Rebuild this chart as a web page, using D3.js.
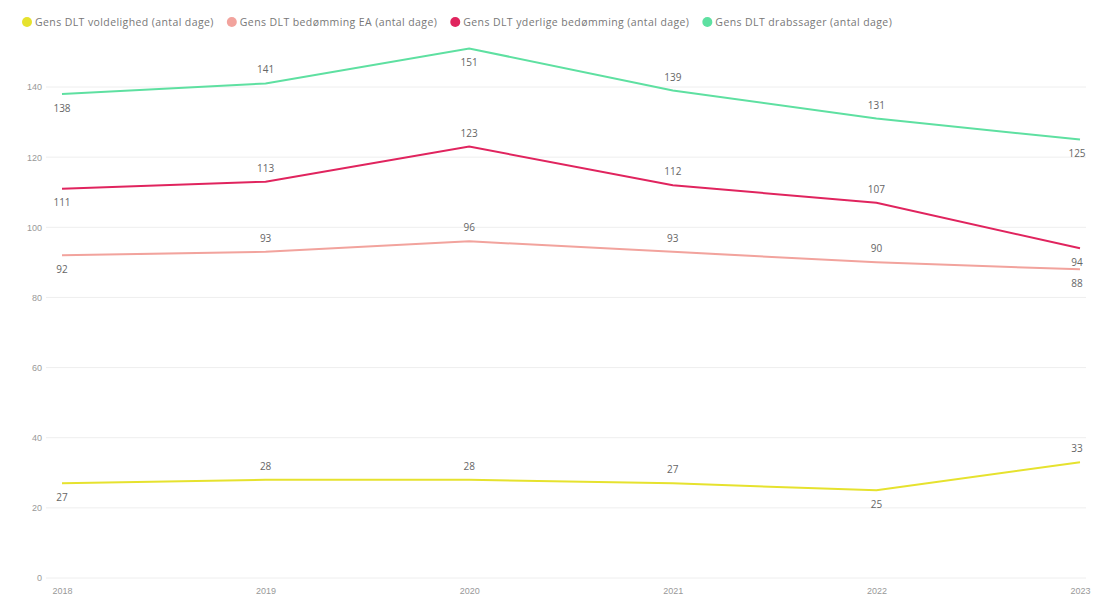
<!DOCTYPE html>
<html><head><meta charset="utf-8">
<script src="https://cdn.jsdelivr.net/npm/d3@7"></script>
<style>body{margin:0;background:#fff;font-family:"Segoe UI","Open Sans",sans-serif}</style>
</head><body><svg id="c" width="1108" height="599"></svg>
<script>
const years = ["2018","2019","2020","2021","2022","2023"];
const seriesNames = [
  "Gens DLT voldelighed (antal dage)",
  "Gens DLT bedømming EA (antal dage)",
  "Gens DLT yderlige bedømming (antal dage)",
  "Gens DLT drabssager (antal dage)"
];
const voldelighed = [27, 28, 28, 27, 25, 33];
const bedommingEA = [92, 93, 96, 93, 90, 88];
const yderlige = [111, 113, 123, 112, 107, 94];
const drabssager = [138, 141, 151, 139, 131, 125];
const yTicks = [0, 20, 40, 60, 80, 100, 120, 140];
const colors = ["#e6e22e", "#f2a39d", "#e0245e", "#5ee0a1"];
// label placement per point: 1 above, -1 below
const labelSide = [
  [-1, 1, 1, 1, -1, 1],
  [-1, 1, 1, 1, 1, -1],
  [-1, 1, 1, 1, 1, -1],
  [-1, 1, -1, 1, 1, -1]
];
const allSeries = [voldelighed, bedommingEA, yderlige, drabssager];

const svg = d3.select("#c");
const x = d3.scalePoint().domain(years).range([62, 1080]);
const y = d3.scaleLinear().domain([0, 140]).range([578, 87]);

svg.append("g").selectAll("line").data(yTicks).join("line")
  .attr("x1", 46).attr("x2", 1086)
  .attr("y1", d => y(d)).attr("y2", d => y(d))
  .attr("stroke", "#eeeeee").attr("stroke-width", 1);

const ya = svg.append("g").attr("transform", "translate(42,0)")
  .call(d3.axisLeft(y).tickValues(yTicks).tickSize(0).tickPadding(0));
ya.select(".domain").remove();
ya.selectAll("text").attr("fill", "#999").attr("font-size", 9).style("font-family", "inherit");

const xa = svg.append("g").attr("transform", "translate(0,586)")
  .call(d3.axisBottom(x).tickSize(0).tickPadding(0));
xa.select(".domain").remove();
xa.selectAll("text").attr("fill", "#999").attr("font-size", 9).attr("dy", "0.9em").style("font-family", "inherit");

const line = d3.line().x((d, i) => x(years[i])).y(d => y(d));
allSeries.forEach((s, k) => {
  svg.append("path").datum(s).attr("d", line)
    .attr("fill", "none").attr("stroke", colors[k]).attr("stroke-width", 2);
  svg.append("g").selectAll("text").data(s).join("text")
    .attr("x", (d, i) => x(years[i]) + (i === 5 ? -3 : 0))
    .attr("y", (d, i) => y(d) - labelSide[k][i] * 10)
    .attr("dy", (d, i) => labelSide[k][i] > 0 ? "0" : "0.75em")
    .attr("text-anchor", "middle")
    .attr("fill", "#666").attr("font-size", 10)
    .text(d => d);
});

const lg = svg.append("g").attr("transform", "translate(27,22)");
let lx = 0;
seriesNames.forEach((n, k) => {
  const g = lg.append("g").attr("transform", `translate(${lx},0)`);
  g.append("circle").attr("r", 5).attr("fill", colors[k]);
  const t = g.append("text").attr("x", 8).attr("dy", "0.35em")
    .attr("fill", "#777").attr("font-size", 10.5).attr("letter-spacing", 0.4).text(n);
  lx += 8 + t.node().getComputedTextLength() + 18;
});
</script></body></html>
